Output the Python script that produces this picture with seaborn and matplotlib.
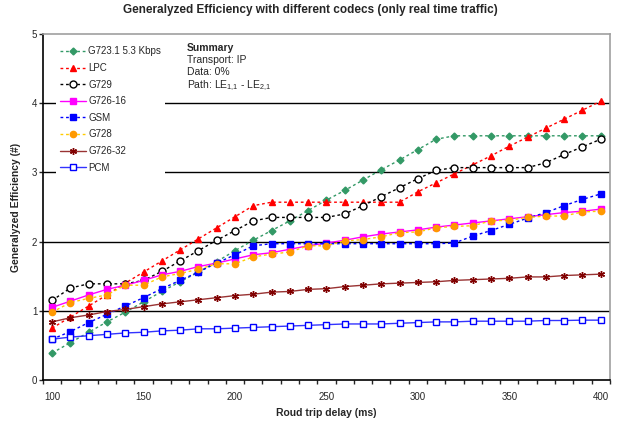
import pandas as pd
import matplotlib
matplotlib.use("Agg")
import matplotlib.pyplot as plt
import matplotlib.ticker as mticker
import seaborn as sns

# 1. DATA
delay = [100, 110, 120, 130, 140, 150, 160, 170, 180, 190, 200,
         210, 220, 230, 240, 250, 260, 270, 280, 290, 300,
         310, 320, 330, 340, 350, 360, 370, 380, 390, 400]

g723 = [0.39, 0.54, 0.69, 0.84, 0.98, 1.13, 1.28, 1.42, 1.56, 1.71, 1.87,
        2.02, 2.16, 2.30, 2.45, 2.60, 2.74, 2.89, 3.04, 3.18, 3.33,
        3.48, 3.53, 3.53, 3.53, 3.53, 3.53, 3.53, 3.53, 3.53, 3.53]
lpc = [0.75, 0.91, 1.07, 1.23, 1.40, 1.56, 1.72, 1.88, 2.04, 2.20, 2.36,
       2.52, 2.57, 2.57, 2.57, 2.57, 2.57, 2.57, 2.57, 2.57, 2.72,
       2.85, 2.98, 3.11, 3.24, 3.38, 3.51, 3.64, 3.77, 3.90, 4.03]
g729 = [1.15, 1.33, 1.39, 1.39, 1.39, 1.44, 1.57, 1.72, 1.87, 2.02, 2.16,
        2.30, 2.35, 2.35, 2.35, 2.35, 2.40, 2.52, 2.65, 2.78, 2.91,
        3.03, 3.07, 3.07, 3.07, 3.07, 3.07, 3.14, 3.26, 3.37, 3.48]
g726_16 = [1.05, 1.14, 1.23, 1.31, 1.37, 1.44, 1.52, 1.57, 1.64, 1.69, 1.75,
           1.81, 1.84, 1.89, 1.94, 1.98, 2.02, 2.07, 2.11, 2.14, 2.17,
           2.21, 2.24, 2.27, 2.30, 2.33, 2.36, 2.39, 2.42, 2.44, 2.47]
gsm = [0.59, 0.70, 0.83, 0.95, 1.07, 1.19, 1.32, 1.44, 1.56, 1.69, 1.81,
       1.94, 1.97, 1.97, 1.97, 1.97, 1.97, 1.97, 1.97, 1.97, 1.97,
       1.97, 1.98, 2.08, 2.16, 2.25, 2.34, 2.42, 2.52, 2.61, 2.69]
g728 = [0.98, 1.12, 1.18, 1.23, 1.37, 1.37, 1.49, 1.54, 1.60, 1.68, 1.68,
        1.78, 1.82, 1.85, 1.94, 1.94, 2.01, 2.03, 2.07, 2.13, 2.14,
        2.20, 2.22, 2.23, 2.30, 2.31, 2.35, 2.37, 2.37, 2.43, 2.44]
g726_32 = [0.84, 0.90, 0.94, 0.99, 1.02, 1.06, 1.10, 1.13, 1.16, 1.19, 1.22,
           1.24, 1.27, 1.28, 1.31, 1.32, 1.35, 1.37, 1.39, 1.40, 1.41,
           1.42, 1.44, 1.45, 1.46, 1.47, 1.49, 1.49, 1.51, 1.52, 1.53]
pcm = [0.59, 0.62, 0.64, 0.66, 0.68, 0.69, 0.71, 0.72, 0.74, 0.74, 0.75,
       0.76, 0.77, 0.78, 0.79, 0.80, 0.81, 0.81, 0.81, 0.82, 0.83,
       0.84, 0.84, 0.85, 0.85, 0.85, 0.85, 0.86, 0.86, 0.865, 0.865]

codecs = ["G723.1 5.3 Kbps", "LPC", "G729", "G726-16", "GSM", "G728", "G726-32", "PCM"]
values = [g723, lpc, g729, g726_16, gsm, g728, g726_32, pcm]

dash = (0, (2, 2))
# line colour, marker, marker face, marker edge, linestyle, marker size
styles = {
    "G723.1 5.3 Kbps": ("#339966", "D", "#339966", "#339966", dash, 3.5),
    "LPC": ("#FF0000", "^", "#FF0000", "#FF0000", dash, 4.5),
    "G729": ("#000000", "o", "white", "#000000", dash, 5),
    "G726-16": ("#FF00FF", "s", "#FF00FF", "#FF00FF", "-", 4),
    "GSM": ("#0000FF", "s", "#0000FF", "#0000FF", dash, 4),
    "G728": ("#FFCC00", "o", "#FF9900", "#FF9900", dash, 4.5),
    "G726-32": ("#993333", (6, 2, 0), "#800000", "#800000", "-", 5),
    "PCM": ("#3333FF", "s", "white", "#0000FF", "-", 4),
}

rows = []
for name, vals in zip(codecs, values):
    for d, v in zip(delay, vals):
        rows.append({"Delay": d, "Efficiency": v, "Codec": name})
df = pd.DataFrame(rows)

# 2. VISUALIZE
sns.set_style("white")
plt.rcParams["font.family"] = ["Liberation Sans", "DejaVu Sans"]
plt.rcParams["mathtext.fontset"] = "custom"
plt.rcParams["mathtext.rm"] = "Liberation Sans"
plt.rcParams["mathtext.default"] = "regular"

fig = plt.figure(figsize=(6.21, 4.21), dpi=100)
ax = fig.add_axes([0.0692, 0.0974, 0.9128, 0.8216])

for i, name in enumerate(codecs):
    lc, mk, mfc, mec, ls, ms = styles[name]
    sub = df[df["Codec"] == name]
    sns.lineplot(data=sub, x="Delay", y="Efficiency", ax=ax, label=name,
                 color=lc, linestyle=ls, linewidth=1, marker=mk, markersize=ms,
                 markerfacecolor=mfc, markeredgecolor=mec, markeredgewidth=1,
                 zorder=3 + i)

ax.set_xlim(95, 405)
ax.set_ylim(0, 5)
ax.xaxis.set_major_locator(mticker.MultipleLocator(50))
ax.xaxis.set_minor_locator(mticker.FixedLocator([95 + 10 * k for k in range(32)]))
ax.tick_params(axis="x", which="major", length=0, pad=9, labelsize=7)
ax.tick_params(axis="x", which="minor", length=3, width=1, direction="out", bottom=True)
ax.yaxis.set_major_locator(mticker.MultipleLocator(1))
ax.tick_params(axis="y", which="major", length=3, width=1, direction="out", left=True,
               pad=1, labelsize=7)

for yv in [1, 2, 3, 4]:
    ax.axhline(yv, color="black", linewidth=1, zorder=1)

for side in ["left", "bottom"]:
    ax.spines[side].set_color("black")
    ax.spines[side].set_linewidth(1.2)
for side in ["top", "right"]:
    ax.spines[side].set_color("#A0A0A0")
    ax.spines[side].set_linewidth(1.2)

# title is centred on the whole figure, not on the axes
fig.text(0.5, 0.99, "Generalyzed Efficiency with different codecs (only real time traffic)",
         fontsize=8.5, fontweight="bold", ha="center", va="top")
ax.set_xlabel("Roud trip delay (ms)", fontsize=7.5, fontweight="bold", labelpad=4)
ax.set_ylabel("Generalyzed Efficiency (#)", fontsize=7.5, fontweight="bold", labelpad=8)

leg = ax.legend(loc="upper left", bbox_to_anchor=(0.015, 0.99), fontsize=7,
                frameon=True, facecolor="white", edgecolor="none", framealpha=1,
                handlelength=2.6, handletextpad=0.3, labelspacing=0.68,
                borderpad=0.4, fancybox=False)
leg.set_zorder(20)

ax.text(0.254, 0.975, "Summary", transform=ax.transAxes, fontsize=7.5,
        fontweight="bold", va="top", ha="left")
ax.text(0.254, 0.94, "Transport: IP", transform=ax.transAxes, fontsize=7.5,
        va="top", ha="left")
ax.text(0.254, 0.905, "Data: 0%", transform=ax.transAxes, fontsize=7.5,
        va="top", ha="left")
ax.text(0.254, 0.87, "Path: LE$_{1{,}1}$ - LE$_{2{,}1}$", transform=ax.transAxes,
        fontsize=7.5, va="top", ha="left")

plt.savefig("out.png", dpi=100)
